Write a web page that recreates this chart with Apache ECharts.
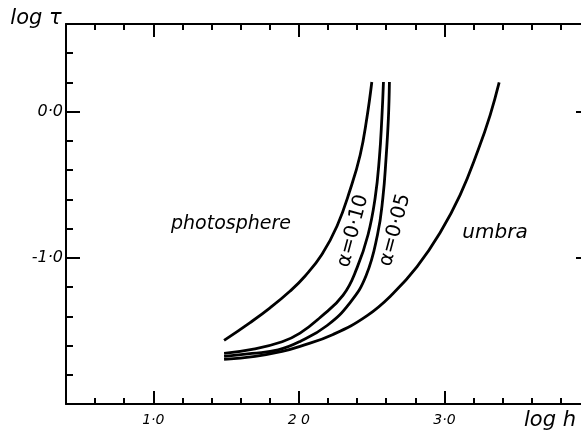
<!DOCTYPE html>
<html>
<head>
<meta charset="utf-8">
<script src="https://cdn.jsdelivr.net/npm/echarts@6/dist/echarts.min.js"></script>
<style>
html, body { margin: 0; padding: 0; background: #fff; }
#chart { width: 581px; height: 431px; }
</style>
</head>
<body>
<div id="chart"></div>
<script>
// curves: [log h, log tau]
var photosphere = [[1.486, -1.565], [1.665, -1.443], [1.802, -1.342], [1.94, -1.227], [2.043, -1.124],
	[2.159, -0.975], [2.263, -0.78], [2.352, -0.534], [2.421, -0.296], [2.467, -0.043], [2.501, 0.203]];
var alpha010 = [[1.486, -1.654], [1.678, -1.627], [1.885, -1.574], [2.008, -1.515], [2.146, -1.408],
	[2.304, -1.255], [2.40, -1.067], [2.475, -0.842], [2.524, -0.589], [2.553, -0.316],
	[2.57, -0.043], [2.581, 0.203]];
var alpha005 = [[1.486, -1.674], [1.678, -1.654], [1.857, -1.63], [2.008, -1.572], [2.194, -1.463],
	[2.352, -1.306], [2.462, -1.121], [2.54, -0.842], [2.577, -0.589], [2.599, -0.316],
	[2.615, -0.043], [2.622, 0.203]];
var umbra = [[1.486, -1.695], [1.699, -1.674], [1.885, -1.64], [2.008, -1.606], [2.235, -1.524],
	[2.469, -1.395], [2.647, -1.244], [2.812, -1.06], [2.97, -0.828], [3.108, -0.569],
	[3.232, -0.261], [3.314, -0.023], [3.376, 0.2]];

// ticks
var xMajor = [1, 2, 3];
var xTickLabels = ['1·0', '2 0', '3·0'];
var yMajor = [-1, 0];
var yTickLabels = ['-1·0', '0·0'];

var FONT = 'DejaVu Sans';
var lineBlack = { color: '#000', width: 2 };

function minorX(pos) {
	return {
		type: 'value', position: pos, min: 0.4, max: 4.0, interval: 0.2,
		axisLine: { onZero: false, lineStyle: lineBlack },
		axisTick: { inside: true, length: 6, lineStyle: lineBlack },
		axisLabel: { show: false },
		splitLine: { show: false }
	};
}
function majorX(pos, labels) {
	return {
		type: 'value', position: pos, min: 0.4, max: 4.0,
		axisLine: { show: false, onZero: false },
		axisTick: { inside: true, length: 13, customValues: xMajor, lineStyle: lineBlack },
		axisLabel: {
			show: labels, customValues: xMajor, margin: 9,
			color: '#000', fontFamily: FONT, fontStyle: 'italic', fontSize: 14,
			formatter: function (v) { return xTickLabels[xMajor.indexOf(Math.round(v))]; }
		},
		splitLine: { show: false }
	};
}

var curveLine = function (name, data) {
	return {
		name: name, type: 'line', data: data, smooth: 0.45,
		showSymbol: false, silent: true,
		lineStyle: { color: '#000', width: 2.8 }
	};
};

var myChart = echarts.init(document.getElementById('chart'));
var option = {
	animation: false,
	backgroundColor: '#fff',
	// the right frame sits just past the page edge
	grid: { left: 66, top: 24, width: 524, height: 380, outerBoundsMode: 'none', containLabel: false },
	xAxis: [minorX('bottom'), majorX('bottom', true), minorX('top'), majorX('top', false)],
	yAxis: [
		{
			type: 'value', position: 'left', min: -2.0, max: 0.6, interval: 0.2,
			axisLine: { onZero: false, lineStyle: lineBlack },
			axisTick: { inside: true, length: 7, lineStyle: lineBlack },
			axisLabel: { show: false },
			splitLine: { show: false }
		},
		{
			type: 'value', position: 'left', min: -2.0, max: 0.6,
			axisLine: { show: false, onZero: false },
			axisTick: { inside: true, length: 14, customValues: yMajor, lineStyle: lineBlack },
			axisLabel: {
				customValues: yMajor, margin: 3,
				color: '#000', fontFamily: FONT, fontStyle: 'italic', fontSize: 16,
				formatter: function (v) { return yTickLabels[yMajor.indexOf(Math.round(v))]; }
			},
			splitLine: { show: false }
		},
		{
			type: 'value', position: 'right', min: -2.0, max: 0.6,
			axisLine: { onZero: false, lineStyle: lineBlack },
			axisTick: { inside: true, length: 14, customValues: yMajor, lineStyle: lineBlack },
			axisLabel: { show: false },
			splitLine: { show: false }
		}
	],
	series: [
		curveLine('photosphere', photosphere),
		curveLine('α=0·10', alpha010),
		curveLine('α=0·05', alpha005),
		curveLine('umbra', umbra)
	],
	graphic: [
		{ type: 'text', x: 36, y: 19, style: { text: 'log τ', font: 'italic 21px "DejaVu Sans"', fill: '#000', align: 'center', verticalAlign: 'middle' } },
		{ type: 'text', x: 550, y: 421, style: { text: 'log h', font: 'italic 21px "DejaVu Sans"', fill: '#000', align: 'center', verticalAlign: 'middle' } },
		{ type: 'text', x: 231, y: 224, style: { text: 'photosphere', font: 'italic 19px "DejaVu Sans"', fill: '#000', align: 'center', verticalAlign: 'middle' } },
		{ type: 'text', x: 495, y: 233, style: { text: 'umbra', font: 'italic 20px "DejaVu Sans"', fill: '#000', align: 'center', verticalAlign: 'middle' } },
		{ type: 'text', x: 353, y: 231, rotation: 75 * Math.PI / 180, style: { text: 'α=0·10', font: '20px "DejaVu Sans"', fill: '#000', align: 'center', verticalAlign: 'middle' } },
		{ type: 'text', x: 395, y: 230, rotation: 75 * Math.PI / 180, style: { text: 'α=0·05', font: '20px "DejaVu Sans"', fill: '#000', align: 'center', verticalAlign: 'middle' } }
	]
};
myChart.setOption(option);
</script>
</body>
</html>
